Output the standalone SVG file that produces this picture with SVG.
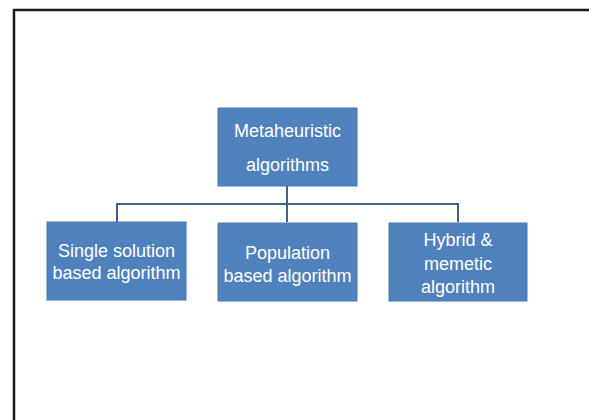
<svg xmlns="http://www.w3.org/2000/svg" width="589" height="420" viewBox="0 0 589 420">
<style>
.box{fill:#4f81bd;stroke:#4a7ab5;stroke-width:1}
.t{font-family:"Liberation Sans",Arial,sans-serif;font-size:18px;fill:#ffffff;text-anchor:middle}
.c{fill:none;stroke:#3f5f8c;stroke-width:2}
</style>
<rect width="589" height="420" fill="#ffffff"/>
<path d="M14,420 V10 H589" fill="none" stroke="#1a1a1a" stroke-width="2.5"/>
<g id="connectors">
<path class="c" d="M287,186 V222"/>
<path class="c" d="M117,222 V204 H458 V222"/>
</g>
<g id="root">
<rect class="box" x="218" y="108" width="139" height="78"/>
<text class="t" x="287.5" y="137">Metaheuristic</text>
<text class="t" x="287.5" y="171">algorithms</text>
</g>
<g id="single">
<rect class="box" x="47" y="222" width="139" height="78"/>
<text class="t" x="116.5" y="257">Single solution</text>
<text class="t" x="116.5" y="279">based algorithm</text>
</g>
<g id="population">
<rect class="box" x="218" y="223" width="139" height="78"/>
<text class="t" x="287.5" y="259">Population</text>
<text class="t" x="287.5" y="282">based algorithm</text>
</g>
<g id="hybrid">
<rect class="box" x="389" y="223" width="138" height="78"/>
<text class="t" x="458" y="246">Hybrid &amp;</text>
<text class="t" x="458" y="270">memetic</text>
<text class="t" x="458" y="293">algorithm</text>
</g>
</svg>
